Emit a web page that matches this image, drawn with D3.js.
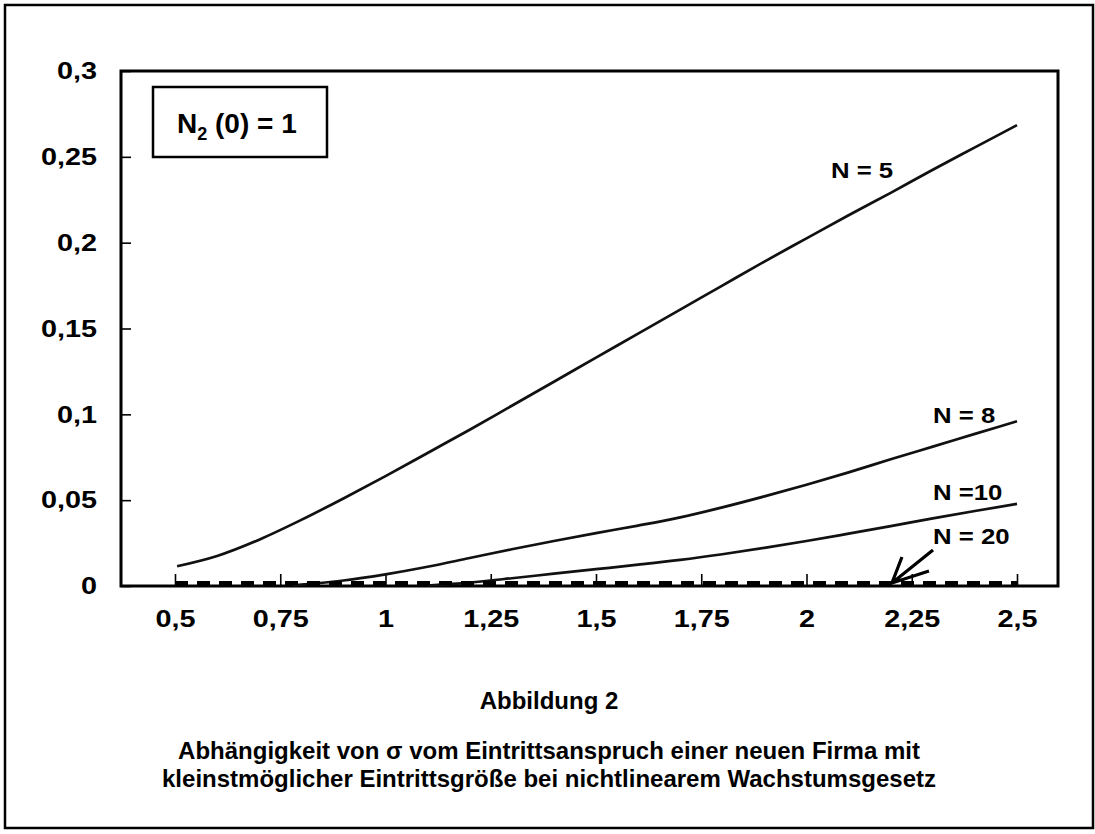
<!DOCTYPE html>
<html>
  <head>
    <title>Abbildung 2</title>
    <script src="https://d3js.org/d3.v7.min.js"></script>
    <style>
      body { margin: 0; background: #fff; }
      text { font-family: "Liberation Sans", Arial, sans-serif; font-weight: bold; fill: #000; }
      .curve { fill: none; stroke: #111; stroke-width: 2.7; stroke-linejoin: round; }
      .tick line { stroke: #000; stroke-width: 1.6; }
    </style>
  </head>
  <body>
    <svg id="chart" width="1095" height="834"></svg>

    <script>
      // tick values
      var xTicks = [0.5, 0.75, 1, 1.25, 1.5, 1.75, 2, 2.25, 2.5];
      var yTicks = [0, 0.05, 0.1, 0.15, 0.2, 0.25, 0.3];

      // sigma curves
      var n5X = [0.505, 0.6, 0.7, 0.8, 0.9, 1.0, 1.1, 1.2, 1.3, 1.4, 1.5, 1.6, 1.7, 1.8, 1.9, 2.0, 2.1, 2.2, 2.3, 2.4, 2.5];
      var n5Y = [0.0115, 0.0175, 0.027, 0.0385, 0.051, 0.064, 0.0775, 0.091, 0.105, 0.119, 0.133, 0.147, 0.161, 0.175, 0.189, 0.2025, 0.216, 0.229, 0.2425, 0.2555, 0.2685];

      var n8X = [0.78, 0.8, 0.9, 1.0, 1.1, 1.2, 1.3, 1.4, 1.5, 1.6, 1.7, 1.8, 1.9, 2.0, 2.1, 2.2, 2.3, 2.4, 2.5];
      var n8Y = [0.0004, 0.0008, 0.0032, 0.0068, 0.0112, 0.0163, 0.0214, 0.0262, 0.0308, 0.0352, 0.04, 0.0458, 0.0522, 0.059, 0.0662, 0.0738, 0.0812, 0.0886, 0.096];

      var n10X = [1.1, 1.2, 1.3, 1.4, 1.5, 1.6, 1.7, 1.8, 1.9, 2.0, 2.1, 2.2, 2.3, 2.4, 2.5];
      var n10Y = [0.0003, 0.002, 0.0045, 0.0072, 0.0098, 0.0124, 0.0152, 0.0185, 0.0222, 0.0262, 0.0305, 0.0349, 0.0394, 0.0437, 0.0478];

      var n20X = [0.5, 2.5];
      var n20Y = [0.0018, 0.0018];

      var curveLabels = ["N = 5", "N = 8", "N =10", "N = 20"];
      var captionLines = [
        "Abhängigkeit von σ vom Eintrittsanspruch einer neuen Firma mit",
        "kleinstmöglicher Eintrittsgröße bei nichtlinearem Wachstumsgesetz"
      ];

      var svg = d3.select("#chart");
      var plotLeft = 121, plotRight = 1058, plotTop = 71, plotBottom = 586;

      var x = d3.scaleLinear().domain([0.5, 2.5]).range([175, 1017]);
      var y = d3.scaleLinear().domain([0, 0.3]).range([plotBottom, plotTop]);
      var comma = d => String(d).replace(".", ",");

      svg.append("rect")
        .attr("x", 5).attr("y", 5).attr("width", 1088).attr("height", 823)
        .attr("fill", "#fff").attr("stroke", "#000").attr("stroke-width", 2.5);

      // axes, ticks pointing inside
      var gx = svg.append("g")
        .attr("transform", `translate(0,${plotBottom})`)
        .call(d3.axisBottom(x).tickValues(xTicks).tickSize(-12).tickSizeOuter(0).tickPadding(24).tickFormat(comma));
      var gy = svg.append("g")
        .attr("transform", `translate(${plotLeft},0)`)
        .call(d3.axisLeft(y).tickValues(yTicks).tickSize(-10).tickSizeOuter(0).tickPadding(20).tickFormat(comma));

      [gx, gy].forEach(g => {
        g.attr("font-family", null).attr("font-size", null);
        g.select(".domain").remove();
        g.selectAll(".tick text")
          .style("font-size", "24px")
          .attr("transform", "scale(1.2,1)");
      });

      svg.append("rect")
        .attr("x", plotLeft).attr("y", plotTop)
        .attr("width", plotRight - plotLeft).attr("height", plotBottom - plotTop)
        .attr("fill", "none").attr("stroke", "#000").attr("stroke-width", 3);

      var line = d3.line()
        .x(d => x(d[0]))
        .y(d => y(d[1]))
        .curve(d3.curveMonotoneX);

      [[n5X, n5Y], [n8X, n8Y], [n10X, n10Y]].forEach(s => {
        svg.append("path")
          .attr("class", "curve")
          .attr("d", line(d3.zip(s[0], s[1])));
      });

      svg.append("path")
        .attr("d", line(d3.zip(n20X, n20Y)))
        .attr("fill", "none")
        .attr("stroke", "#000")
        .attr("stroke-width", 4)
        .attr("stroke-dasharray", "13,9");

      // curve labels, anchored in data units
      var labelAt = [[2.058, 0.2377], [2.3005, 0.095], [2.3005, 0.0501], [2.3005, 0.0245]];
      svg.selectAll("text.clabel")
        .data(curveLabels)
        .enter()
        .append("text")
          .attr("class", "clabel")
          .attr("transform", (d, i) => `translate(${x(labelAt[i][0])},${y(labelAt[i][1])}) scale(1.12,1)`)
          .style("font-size", "23px")
          .text(d => d);

      // arrow to the N = 20 line
      var tail = [x(2.3005), y(0.021)];
      var tip = [x(2.203), y(0.00175)];
      svg.append("path")
        .attr("d", `M${tail[0]},${tail[1]}L${tip[0]},${tip[1]}M${tip[0] + 10},${tip[1] - 26}L${tip[0]},${tip[1]}L${tip[0] + 37},${tip[1] - 12}`)
        .attr("fill", "none")
        .attr("stroke", "#000")
        .attr("stroke-width", 3.2)
        .attr("stroke-linejoin", "miter");

      // N2(0) = 1 box
      svg.append("rect")
        .attr("x", 153).attr("y", 87).attr("width", 174).attr("height", 70)
        .attr("fill", "#fff").attr("stroke", "#000").attr("stroke-width", 2.5);
      var boxText = svg.append("text")
        .attr("x", 177).attr("y", 133)
        .style("font-size", "28px");
      boxText.append("tspan").text("N");
      boxText.append("tspan").attr("dy", 7).style("font-size", "18px").text("2");
      boxText.append("tspan").attr("dy", -7).text(" (0) = 1");

      // caption
      svg.append("text")
        .attr("x", 549).attr("y", 709)
        .attr("text-anchor", "middle")
        .style("font-size", "24px")
        .text("Abbildung 2");
      svg.selectAll("text.caption")
        .data(captionLines)
        .enter()
        .append("text")
          .attr("class", "caption")
          .attr("x", 549)
          .attr("y", (d, i) => 759 + i * 28)
          .attr("text-anchor", "middle")
          .style("font-size", "24px")
          .text(d => d);
    </script>
  </body>
</html>
